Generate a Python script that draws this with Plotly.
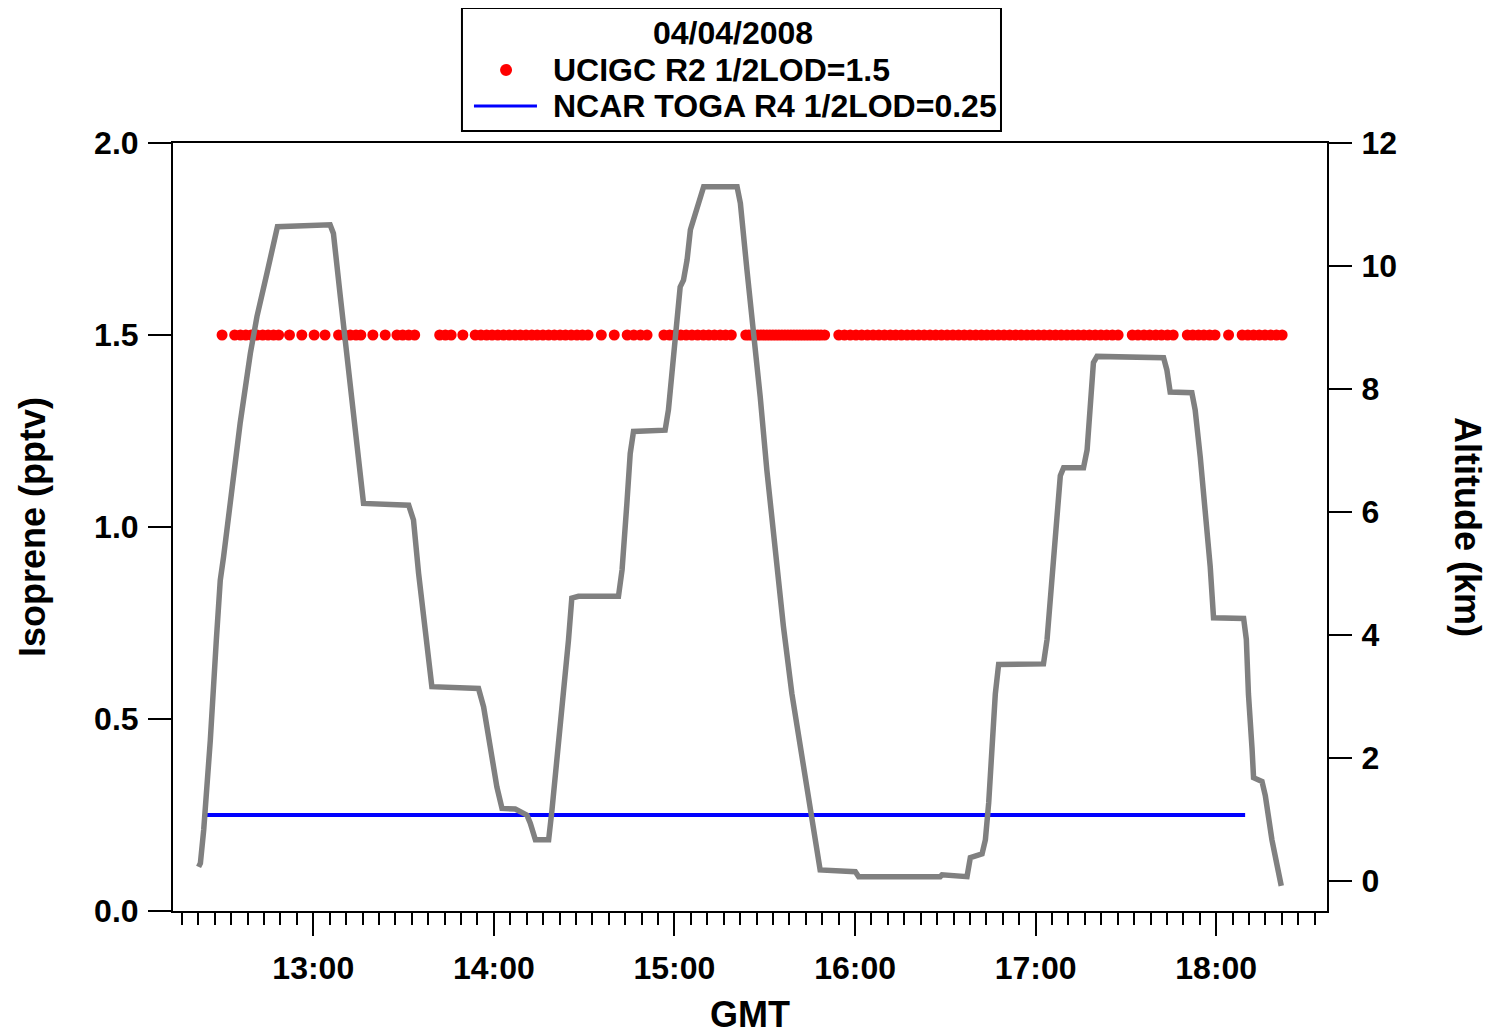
import plotly.graph_objects as go

# dados - tempo em minutos depois de 12:00 GMT
ucigc_min = [29.7, 33.9, 35.8, 37.6, 39.4, 41.3, 43.2, 45.0, 46.8, 48.5, 52.1, 56.2, 60.3, 63.9,
             68.4, 70.4, 72.3, 74.2, 75.8, 79.8, 83.9, 87.8, 89.7, 91.7, 93.7, 102.0, 103.9, 105.8,
             109.7, 113.8, 115.7, 117.6, 119.4, 121.3, 123.2, 125.1, 127.0, 128.8, 130.7, 132.6,
             134.4, 136.3, 138.2, 140.1, 142.0, 143.8, 145.7, 147.6, 149.4, 151.3, 155.7, 160.0,
             164.3, 166.5, 168.7, 170.9, 176.5, 178.4, 180.2, 182.1, 183.9, 185.8, 187.7, 189.6,
             191.4, 193.3, 195.2, 197.0, 198.9, 203.7, 204.7, 205.7, 206.7, 207.7, 208.7, 209.7,
             210.7, 211.7, 212.7, 213.7, 214.7, 215.7, 216.7, 217.7, 218.7, 219.7, 220.7, 221.7,
             222.7, 223.7, 224.7, 225.7, 226.7, 227.7, 228.7, 229.9, 234.6, 236.5, 238.4, 240.3,
             242.2, 244.1, 246.0, 247.9, 249.8, 251.7, 253.5, 255.4, 257.3, 259.2, 261.1, 263.0,
             264.9, 266.8, 268.7, 270.6, 272.5, 274.4, 276.3, 278.2, 280.1, 282.0, 283.8, 285.7,
             287.6, 289.5, 291.4, 293.3, 295.2, 297.1, 299.0, 300.9, 302.8, 304.7, 306.6, 308.5,
             310.4, 312.3, 314.1, 316.0, 317.9, 319.8, 321.7, 323.6, 325.5, 327.4, 332.1, 334.0,
             336.0, 337.9, 339.9, 341.8, 343.8, 345.7, 350.4, 352.2, 354.1, 355.9, 357.8, 359.6,
             364.1, 368.6, 370.5, 372.4, 374.3, 376.2, 378.1, 380.0, 381.9]
ucigc_val = [1.5] * len(ucigc_min)

toga_min = [23.8, 369.6]
toga_val = [0.25, 0.25]

alt_min = [21.9, 22.5, 23.6, 24.1, 24.7, 25.8, 27.8, 29.1, 30.2, 33.5, 35.7, 39.1, 41.3, 44.6,
           48.1, 65.6, 66.7, 69.0, 71.2, 73.4, 75.6, 76.7, 91.7, 93.3, 95.0, 96.6, 98.3, 99.4,
           114.9, 116.6, 118.8, 121.0, 122.7, 127.1, 131.0, 132.1, 133.8, 138.2, 139.3, 141.0,
           143.2, 144.8, 145.9, 148.1, 161.4, 162.6, 164.2, 165.3, 166.4, 176.9, 178.0, 179.2,
           180.3, 181.9, 183.0, 184.2, 185.3, 187.5, 189.7, 200.8, 201.9, 204.1, 206.3, 208.5,
           210.7, 212.9, 216.2, 219.0, 221.8, 225.1, 228.4, 240.1, 241.2, 268.3, 268.9, 277.2,
           278.3, 282.2, 283.3, 284.4, 285.5, 286.6, 287.7, 302.6, 303.8, 304.9, 306.0, 307.1,
           308.2, 309.3, 315.9, 317.1, 318.2, 319.2, 320.4, 342.5, 343.6, 344.7, 351.9, 353.0,
           354.7, 356.4, 358.0, 359.1, 369.1, 370.0, 370.7, 371.9, 372.4, 375.2, 376.3, 378.5,
           381.6]
alt_km = [0.23, 0.29, 0.83, 1.11, 1.64, 2.29, 3.92, 4.89, 5.27, 6.63, 7.44, 8.58, 9.18, 9.88,
          10.64, 10.67, 10.53, 9.50, 8.58, 7.60, 6.63, 6.14, 6.11, 5.87, 5.00, 4.35, 3.65, 3.16,
          3.13, 2.83, 2.18, 1.53, 1.18, 1.17, 1.07, 0.94, 0.67, 0.67, 1.15, 1.97,
          3.11, 3.92, 4.60, 4.63, 4.63, 5.06, 6.14, 6.95, 7.31, 7.33, 7.66, 8.31,
          8.96, 9.66, 9.77, 10.10, 10.59, 10.91, 11.29, 11.29, 11.02, 9.93, 8.96, 7.87,
          6.68, 5.60, 4.14, 3.05, 2.18, 1.10, 0.18, 0.15, 0.07, 0.07, 0.10, 0.07,
          0.38, 0.44, 0.67, 1.27, 2.15, 3.04, 3.52, 3.53, 3.93, 4.64, 5.17, 5.88,
          6.59, 6.72, 6.72, 7.01, 7.78, 8.43, 8.53, 8.51, 8.31, 7.95, 7.94, 7.66,
          6.89, 6.00, 5.11, 4.28, 4.27, 3.93, 3.04, 2.15, 1.68, 1.62, 1.39, 0.67,
          -0.08]

hour_ticks = [60, 120, 180, 240, 300, 360]
hour_labels = ['13:00', '14:00', '15:00', '16:00', '17:00', '18:00']

data_label = '04/04/2008'
ucigc_label = 'UCIGC R2 1/2LOD=1.5'
toga_label = 'NCAR TOGA R4 1/2LOD=0.25'

# ticks intermediarios (5/11 e 10/11 de cada hora)
mid_ticks = [60 * h + 60 * k / 11 for h in range(7) for k in (5, 10)]

BOLD = dict(family='Arial, Liberation Sans, sans-serif', size=32, color='black', weight='bold')
TITLE = dict(family='Arial, Liberation Sans, sans-serif', size=36, color='black', weight='bold')
xrange = [13.4, 396.8]

fig = go.Figure()
fig.add_trace(go.Scatter(x=ucigc_min, y=ucigc_val, mode='markers', name=ucigc_label,
                         marker=dict(color='#ff0000', size=11)))
fig.add_trace(go.Scatter(x=toga_min, y=toga_val, mode='lines', name=toga_label,
                         line=dict(color='#0000ff', width=4)))
fig.add_trace(go.Scatter(x=alt_min, y=alt_km, mode='lines', yaxis='y2',
                         line=dict(color='rgb(128,128,128)', width=5.5)))

# a pagina tem 8px de margem no body, por isso as margens estao deslocadas
fig.update_layout(
    width=1495, height=1035,
    margin=dict(l=165, r=176, t=135, b=132, autoexpand=False),
    paper_bgcolor='white', plot_bgcolor='white',
    font=BOLD, showlegend=False,
    xaxis=dict(range=xrange, showline=True, linecolor='black', linewidth=2, mirror=True,
               showgrid=False, zeroline=False, ticks='outside', ticklen=23, tickwidth=2,
               tickcolor='black', tickvals=hour_ticks, ticktext=hour_labels,
               ticklabelstandoff=5,
               minor=dict(tickmode='linear', tick0=0, dtick=60 / 11, ticks='outside',
                          ticklen=12, tickwidth=2, tickcolor='black', showgrid=False)),
    xaxis3=dict(range=xrange, overlaying='x', anchor='y', side='bottom', showline=False,
                showgrid=False, zeroline=False, ticks='outside', ticklen=17, tickwidth=2,
                tickcolor='black', tickvals=mid_ticks, showticklabels=False),
    yaxis=dict(range=[0, 2], showline=True, linecolor='black', linewidth=2, showgrid=False,
               zeroline=False, ticks='outside', ticklen=23, tickwidth=2, tickcolor='black',
               dtick=0.5, tick0=0, tickformat='.1f', ticklabelstandoff=3),
    yaxis2=dict(range=[-0.488, 12], overlaying='y', side='right', anchor='x', showline=True,
                linecolor='black', linewidth=2, showgrid=False, zeroline=False,
                ticks='outside', ticklen=23, tickwidth=2, tickcolor='black', dtick=2, tick0=0,
                ticklabelstandoff=3),
)

# titulos dos eixos
fig.add_annotation(text='Isoprene (pptv)', xref='paper', yref='paper', x=-0.1222, y=0.5,
                   xanchor='center', yanchor='middle', textangle=-90, showarrow=False, font=TITLE)
fig.add_annotation(text='Altitude (km)', xref='paper', yref='paper', x=1.1222, y=0.5,
                   xanchor='center', yanchor='middle', textangle=90, showarrow=False, font=TITLE)
fig.add_annotation(text='GMT', xref='paper', yref='paper', x=0.5, y=-0.1354,
                   xanchor='center', yanchor='middle', showarrow=False, font=TITLE)

# legenda desenhada na mao (caixa, titulo, simbolos)
fig.add_shape(type='rect', xref='paper', yref='paper', x0=0.2504, x1=0.7175, y0=1.0156, y1=1.1758,
              line=dict(color='black', width=2), fillcolor='white', layer='above')
fig.add_annotation(text=data_label, xref='paper', yref='paper', x=0.4853, y=1.1432,
                   xanchor='center', yanchor='middle', showarrow=False, font=BOLD)
fig.add_shape(type='circle', xref='paper', yref='paper', xsizemode='pixel', ysizemode='pixel',
              xanchor=0.2886, yanchor=1.0951, x0=-6, x1=6, y0=-6, y1=6,
              fillcolor='#ff0000', line=dict(width=0))
fig.add_annotation(text=ucigc_label, xref='paper', yref='paper', x=0.3276, y=1.0951,
                   xanchor='left', yanchor='middle', showarrow=False, font=BOLD)
fig.add_shape(type='line', xref='paper', yref='paper', x0=0.2608, x1=0.3154, y0=1.0482, y1=1.0482,
              line=dict(color='#0000ff', width=3))
fig.add_annotation(text=toga_label, xref='paper', yref='paper', x=0.3276, y=1.0482,
                   xanchor='left', yanchor='middle', showarrow=False, font=BOLD)

fig.write_html("out.html")
